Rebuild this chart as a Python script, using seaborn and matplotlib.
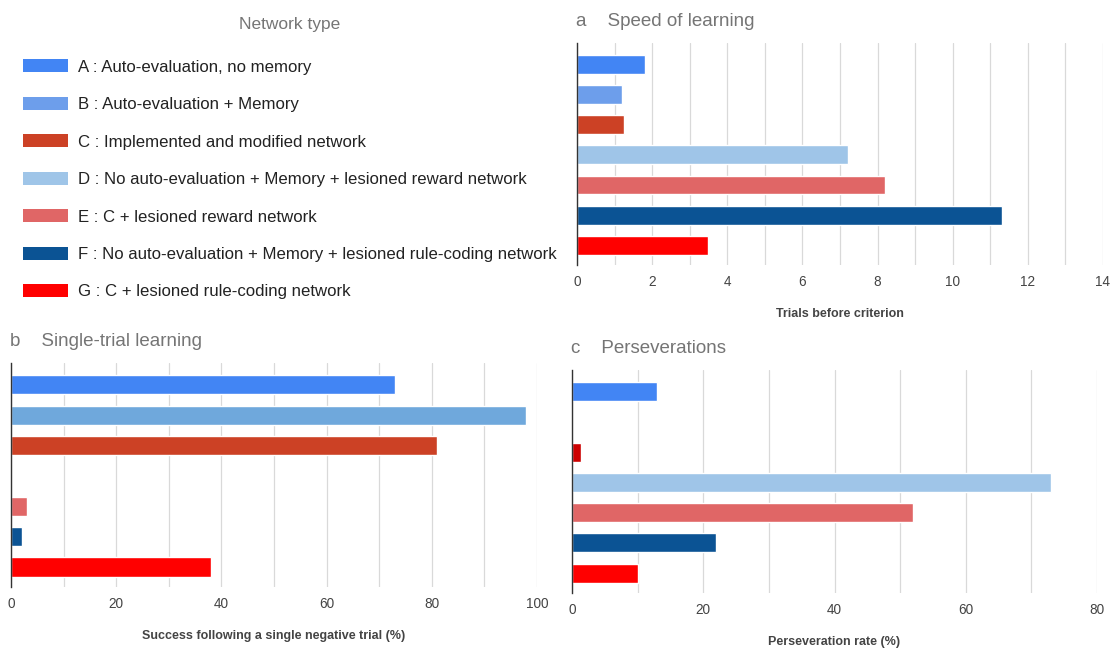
import numpy as np
import pandas as pd
import seaborn as sns
import matplotlib.pyplot as plt
from matplotlib.patches import Patch
from matplotlib.ticker import MultipleLocator

# ========== DATA ==========
networks = ['A', 'B', 'C', 'D', 'E', 'F', 'G']
labels = [
    'A : Auto-evaluation, no memory',
    'B : Auto-evaluation + Memory',
    'C : Implemented and modified network',
    'D : No auto-evaluation + Memory + lesioned reward network',
    'E : C + lesioned reward network',
    'F : No auto-evaluation + Memory + lesioned rule-coding network',
    'G : C + lesioned rule-coding network',
]
speed = [1.8, 1.2, 1.25, 7.2, 8.2, 11.3, 3.5]          # trials before criterion
single = [73, 98, 81, np.nan, 3, 2, 38]                 # success after one negative trial (%)
persev = [13, np.nan, 1.3, 73, 52, 22, 10]              # perseveration rate (%)

colors_legend = ['#4285F4', '#6D9EEB', '#CC4125', '#9FC5E8', '#E06666', '#0B5394', '#FF0000']
colors_a = ['#4285F4', '#6D9EEB', '#CC4125', '#9FC5E8', '#E06666', '#0B5394', '#FF0000']
colors_b = ['#4285F4', '#6FA8DC', '#CC4125', '#9FC5E8', '#E06666', '#0B5394', '#FF0000']
colors_c = ['#4285F4', '#6D9EEB', '#CC0000', '#9FC5E8', '#E06666', '#0B5394', '#FF0000']

# ========== STYLE ==========
sns.set_theme(style='white')
plt.rcParams['font.family'] = ['Liberation Sans', 'DejaVu Sans']

W, H = 1120, 649
fig = plt.figure(figsize=(W / 100, H / 100), dpi=100)


def px_axes(left, top, right, bottom):
    return fig.add_axes([left / W, 1 - bottom / H, (right - left) / W, (bottom - top) / H])


def panel(ax, values, colors, xmax, major, minor, xlabel, letter, title, label_pad, title_pad):
    df = pd.DataFrame({'net': networks, 'val': values})
    sns.barplot(data=df, x='val', y='net', hue='net', order=networks,
                palette=dict(zip(networks, colors)), orient='h',
                width=0.63, legend=False, ax=ax, saturation=1)
    ax.set_xlim(0, xmax)
    ax.set_ylim(6.66, -0.72)
    ax.xaxis.set_major_locator(MultipleLocator(major))
    ax.xaxis.set_minor_locator(MultipleLocator(minor))
    ax.grid(True, axis='x', which='both', color='#d9d9d9', linewidth=0.9)
    ax.set_axisbelow(True)
    ax.set_yticks([])
    ax.set_ylabel('')
    for s in ['top', 'right', 'bottom']:
        ax.spines[s].set_visible(False)
    ax.spines['left'].set_color('#333333')
    ax.spines['left'].set_linewidth(1.0)
    ax.tick_params(axis='x', which='both', length=0, labelsize=9.8,
                   labelcolor='#444444', pad=7)
    ax.set_xlabel(xlabel, fontsize=9, fontweight='bold', color='#444444', labelpad=label_pad)
    ax.set_title(f'{letter}    {title}', loc='left', fontsize=13.5,
                 color='#757575', pad=title_pad, x=-0.002)


ax_a = px_axes(577, 43, 1103, 265)
ax_b = px_axes(11, 363, 537, 587)
ax_c = px_axes(572, 370, 1097, 593)

panel(ax_a, speed, colors_a, 14, 2, 1, 'Trials before criterion', 'a', 'Speed of learning', 14, 12)
panel(ax_b, single, colors_b, 100, 20, 10,
      'Success following a single negative trial (%)', 'b', 'Single-trial learning', 14, 12)
panel(ax_c, persev, colors_c, 80, 20, 10, 'Perseveration rate (%)', 'c', 'Perseverations', 14, 12)

# ========== LEGEND ==========
handles = [Patch(facecolor=c, edgecolor='none', label=l) for c, l in zip(colors_legend, labels)]
leg = fig.legend(handles=handles, loc='upper left', bbox_to_anchor=(16 / W, 1 - 10 / H),
                 frameon=False, fontsize=12.1, title='Network type', title_fontsize=12.5,
                 handlelength=2.7, handleheight=0.8, handletextpad=0.6,
                 labelspacing=1.32, borderaxespad=0)
leg.get_title().set_color('#757575')
for t in leg.get_texts():
    t.set_color('#222222')
leg._legend_box.sep = 20

plt.savefig('out.png', dpi=100)
